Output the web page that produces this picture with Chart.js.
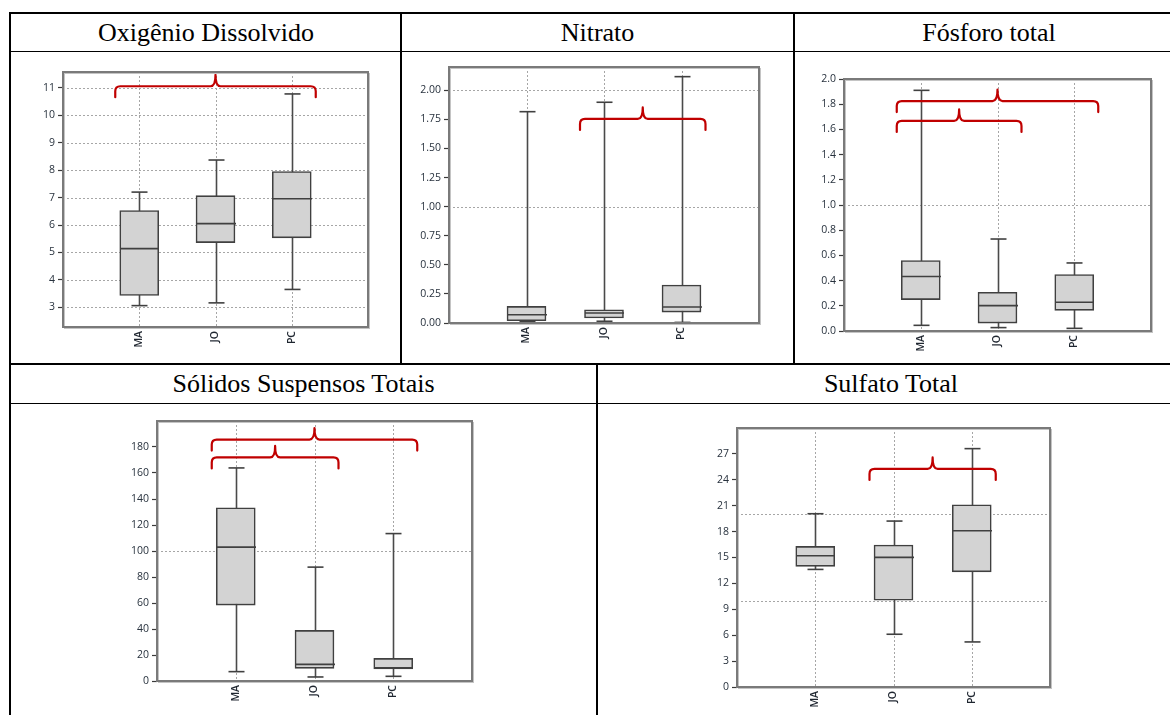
<!DOCTYPE html>
<html>
<head>
<meta charset="utf-8">
<script src="https://cdn.jsdelivr.net/npm/chart.js@4.4.1/dist/chart.umd.min.js"></script>
<style>
html,body{margin:0;padding:0;background:#fff;}
body{width:1170px;height:715px;position:relative;overflow:hidden;font-family:"Liberation Serif","Times New Roman",serif;}
.ln{position:absolute;background:#000;}
.hdr{position:absolute;text-align:center;font-size:26px;line-height:38px;height:38px;color:#000;white-space:nowrap;}
canvas{position:absolute;}
</style>
</head>
<body>
<!-- table lines -->
<div class="ln" style="left:9px;top:12px;width:1161px;height:2px;"></div>
<div class="ln" style="left:9px;top:51px;width:1161px;height:1px;"></div>
<div class="ln" style="left:9px;top:363px;width:1161px;height:2px;"></div>
<div class="ln" style="left:9px;top:403px;width:1161px;height:1px;"></div>
<div class="ln" style="left:9px;top:12px;width:2px;height:703px;"></div>
<div class="ln" style="left:400px;top:12px;width:2px;height:352px;"></div>
<div class="ln" style="left:793px;top:12px;width:2px;height:352px;"></div>
<div class="ln" style="left:596px;top:363px;width:2px;height:352px;"></div>

<div class="hdr" style="left:11px;width:390px;top:14px;">Oxigênio Dissolvido</div>
<div class="hdr" style="left:402px;width:391px;top:14px;">Nitrato</div>
<div class="hdr" style="left:795px;width:388px;top:14px;">Fósforo total</div>
<div class="hdr" style="left:11px;width:585px;top:365px;">Sólidos Suspensos Totais</div>
<div class="hdr" style="left:598px;width:586px;top:365px;">Sulfato Total</div>

<canvas id="c1"></canvas>
<canvas id="c2"></canvas>
<canvas id="c3"></canvas>
<canvas id="c4"></canvas>
<canvas id="c5"></canvas>

<script>
// ---------- DATA ----------
const categories = ['MA', 'JO', 'PC'];

// Oxigênio Dissolvido
const odMin    = [3.06, 3.16, 3.65];
const odQ1     = [3.43, 5.36, 5.53];
const odMedian = [5.14, 6.05, 6.96];
const odQ3     = [6.53, 7.07, 7.95];
const odMax    = [7.20, 8.37, 10.78];
const odTicks  = [3, 4, 5, 6, 7, 8, 9, 10, 11];
const odGridLines = [3, 4, 5, 6, 7, 8, 9, 10, 11];
const odBrackets = [['MA', 'PC', 11.06]];

// Nitrato
const niMin    = [0.014, 0.015, 0.005];
const niQ1     = [0.020, 0.043, 0.094];
const niMedian = [0.071, 0.086, 0.137];
const niQ3     = [0.143, 0.114, 0.326];
const niMax    = [1.816, 1.897, 2.117];
const niTicks  = [0, 0.25, 0.5, 0.75, 1.0, 1.25, 1.5, 1.75, 2.0];
const niGridLines = [1.0, 2.0];
const niBrackets = [['JO', 'PC', 1.754]];

// Fósforo total
const ptMin    = [0.045, 0.027, 0.021];
const ptQ1     = [0.249, 0.063, 0.164];
const ptMedian = [0.432, 0.201, 0.228];
const ptQ3     = [0.559, 0.307, 0.448];
const ptMax    = [1.910, 0.730, 0.540];
const ptTicks  = [0, 0.2, 0.4, 0.6, 0.8, 1.0, 1.2, 1.4, 1.6, 1.8, 2.0];
const ptGridLines = [1.0];
const ptBrackets = [['MA', 'PC', 1.825], ['MA', 'JO', 1.667]];

// Sólidos Suspensos Totais
const sstMin    = [7.2, 3.1, 3.6];
const sstQ1     = [58.4, 9.7, 9.2];
const sstMedian = [103.0, 12.8, 10.2];
const sstQ3     = [133.2, 38.9, 17.4];
const sstMax    = [163.9, 87.6, 113.4];
const sstTicks  = [0, 20, 40, 60, 80, 100, 120, 140, 160, 180];
const sstGridLines = [100];
const sstBrackets = [['MA', 'PC', 185.7], ['MA', 'JO', 172.0]];

// Sulfato Total
const suMin    = [13.62, 6.11, 5.22];
const suQ1     = [13.97, 10.06, 13.34];
const suMedian = [15.20, 15.01, 18.10];
const suQ3     = [16.29, 16.44, 21.11];
const suMax    = [20.07, 19.22, 27.61];
const suTicks  = [0, 3, 6, 9, 12, 15, 18, 21, 24, 27];
const suGridLines = [10, 20];
const suBrackets = [['JO', 'PC', 25.26]];

// ---------- LAYOUT ----------
const panels = [
  { id:'c1', rect:[63, 72, 368, 327],  yMin:2.28, yMax:11.58, dec:0, ticks:odTicks,  grid:odGridLines,  brackets:odBrackets,
    s:{min:odMin, q1:odQ1, med:odMedian, q3:odQ3, max:odMax} },
  { id:'c2', rect:[449, 67, 759, 323], yMin:0, yMax:2.2, dec:2, ticks:niTicks, grid:niGridLines, brackets:niBrackets,
    s:{min:niMin, q1:niQ1, med:niMedian, q3:niQ3, max:niMax} },
  { id:'c3', rect:[844, 79, 1151, 331], yMin:0, yMax:2.0, dec:1, ticks:ptTicks, grid:ptGridLines, brackets:ptBrackets,
    s:{min:ptMin, q1:ptQ1, med:ptMedian, q3:ptQ3, max:ptMax} },
  { id:'c4', rect:[157, 421, 472, 681], yMin:0, yMax:200, dec:0, ticks:sstTicks, grid:sstGridLines, brackets:sstBrackets,
    s:{min:sstMin, q1:sstQ1, med:sstMedian, q3:sstQ3, max:sstMax} },
  { id:'c5', rect:[737, 428, 1050, 687], yMin:0, yMax:30, dec:0, ticks:suTicks, grid:suGridLines, brackets:suBrackets,
    s:{min:suMin, q1:suQ1, med:suMedian, q3:suQ3, max:suMax} }
];

const AXW = 60, PADT = 12, PADR = 12, AXH = 40;
const BOXW = 39, CAPW = 16, OVER = 24;

function line(ctx, x1, y1, x2, y2) { ctx.beginPath(); ctx.moveTo(x1, y1); ctx.lineTo(x2, y2); ctx.stroke(); }

function drawBracket(ctx, x1, x2, yL) {
  const drop = 11, tip = 11.5, r = 5, xm = (x1 + x2) / 2;
  ctx.beginPath();
  ctx.moveTo(x1, yL + drop);
  ctx.lineTo(x1, yL + r);
  ctx.quadraticCurveTo(x1, yL, x1 + r, yL);
  ctx.lineTo(xm - 5, yL);
  ctx.quadraticCurveTo(xm, yL, xm, yL - tip);
  ctx.quadraticCurveTo(xm, yL, xm + 5, yL);
  ctx.lineTo(x2 - r, yL);
  ctx.quadraticCurveTo(x2, yL, x2, yL + r);
  ctx.lineTo(x2, yL + drop);
  ctx.stroke();
}

function makePlugin(p) {
  return {
    id: 'boxExtras',
    beforeDatasetsDraw(chart) {
      const { ctx, chartArea: a, scales: { x, y } } = chart;
      ctx.save();
      ctx.beginPath(); ctx.rect(a.left, a.top, a.width, a.height); ctx.clip();
      ctx.strokeStyle = '#a6a6a6'; ctx.lineWidth = 1; ctx.setLineDash([2, 2]);
      p.grid.forEach(v => { const py = Math.round(y.getPixelForValue(v)) + 0.5; line(ctx, a.left, py, a.right, py); });
      categories.forEach((c, i) => { const px = Math.round(x.getPixelForValue(i + 1)) + 0.5; line(ctx, px, a.top, px, a.bottom); });
      ctx.setLineDash([]);
      ctx.strokeStyle = '#4a4a4a'; ctx.lineWidth = 1.6;
      categories.forEach((c, i) => {
        const px = Math.round(x.getPixelForValue(i + 1)) + 0.5;
        line(ctx, px, y.getPixelForValue(p.s.min[i]), px, y.getPixelForValue(p.s.max[i]));
      });
      ctx.restore();
    },
    afterDatasetsDraw(chart) {
      const { ctx, scales: { x, y } } = chart;
      ctx.save();
      ctx.strokeStyle = '#404040'; ctx.lineWidth = 1.6;
      categories.forEach((c, i) => {
        const px = Math.round(x.getPixelForValue(i + 1)) + 0.5;
        const ym = y.getPixelForValue(p.s.med[i]);
        line(ctx, px - BOXW / 2, ym, px + BOXW / 2, ym);
        const y0 = y.getPixelForValue(p.s.min[i]), y1 = y.getPixelForValue(p.s.max[i]);
        line(ctx, px - CAPW / 2, y0, px + CAPW / 2, y0);
        line(ctx, px - CAPW / 2, y1, px + CAPW / 2, y1);
      });
      ctx.strokeStyle = '#c00000'; ctx.lineWidth = 2.2; ctx.lineJoin = 'round'; ctx.lineCap = 'round';
      p.brackets.forEach(b => {
        const x1 = x.getPixelForValue(categories.indexOf(b[0]) + 1) - OVER;
        const x2 = x.getPixelForValue(categories.indexOf(b[1]) + 1) + OVER;
        drawBracket(ctx, x1, x2, y.getPixelForValue(b[2]));
      });
      ctx.restore();
    },
    afterDraw(chart) {
      const { ctx, chartArea: a } = chart;
      ctx.save();
      ctx.strokeStyle = '#c4c4c4'; ctx.lineWidth = 1;
      ctx.strokeRect(a.left + 1.5, a.top + 1.5, a.width, a.height);
      ctx.strokeStyle = '#7a7a7a'; ctx.lineWidth = 2;
      ctx.strokeRect(a.left, a.top, a.width, a.height);
      ctx.restore();
    }
  };
}

panels.forEach(p => {
  const [L, T, R, B] = p.rect;
  const W = R - L, H = B - T;
  const cv = document.getElementById(p.id);
  const cw = W + AXW + PADR, ch = H + PADT + AXH;
  cv.width = cw; cv.height = ch;
  cv.style.left = (L - AXW) + 'px'; cv.style.top = (T - PADT) + 'px';
  cv.style.width = cw + 'px'; cv.style.height = ch + 'px';

  new Chart(cv, {
    type: 'bar',
    data: {
      datasets: [{
        data: categories.map((c, i) => ({ x: i + 1, y: [p.s.q1[i], p.s.q3[i]] })),
        backgroundColor: '#d3d3d3',
        borderColor: '#404040',
        borderWidth: 1.6,
        borderSkipped: false,
        barThickness: BOXW
      }]
    },
    options: {
      responsive: false,
      animation: false,
      devicePixelRatio: 1,
      layout: { padding: { top: PADT, right: PADR, left: 0, bottom: 0 } },
      plugins: { legend: { display: false }, tooltip: { enabled: false } },
      scales: {
        x: {
          type: 'linear', min: 0, max: 4, offset: false,
          grid: { display: false, drawTicks: false },
          border: { display: false },
          afterBuildTicks: s => { s.ticks = categories.map((c, i) => ({ value: i + 1 })); },
          afterFit: s => { s.height = AXH; },
          ticks: {
            autoSkip: false, minRotation: 90, maxRotation: 90, padding: 4,
            color: '#1f2630', font: { family: '"Open Sans", "Noto Sans", sans-serif', size: 10.5, weight: '600' },
            callback: v => categories[Math.round(v) - 1] || ''
          }
        },
        y: {
          type: 'linear', min: p.yMin, max: p.yMax,
          grid: { drawOnChartArea: false, drawTicks: true, tickLength: 5, tickColor: '#3a3a3a', tickWidth: 1.2 },
          border: { display: false },
          afterBuildTicks: s => { s.ticks = p.ticks.map(v => ({ value: v })); },
          afterFit: s => { s.width = AXW; },
          ticks: {
            padding: 3, autoSkip: false,
            color: '#28323e', font: { family: '"Open Sans", "Noto Sans", sans-serif', size: 10.5 },
            callback: v => Number(v).toFixed(p.dec)
          }
        }
      }
    },
    plugins: [makePlugin(p)]
  });
});
</script>
</body>
</html>
